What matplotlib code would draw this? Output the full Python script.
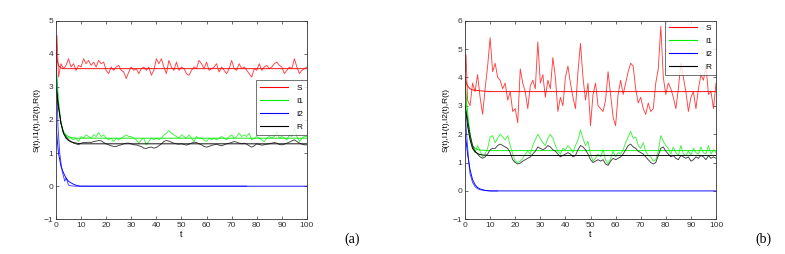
import numpy as np
import matplotlib
matplotlib.use("Agg")
import matplotlib.pyplot as plt
from matplotlib.lines import Line2D

plt.rcParams["font.family"] = ["Liberation Sans", "DejaVu Sans"]

# ---- panel (a) ----
t_a = np.concatenate([[0, 0.4], np.arange(1, 101)])
S_a = [4.0, 4.55, 3.3, 3.7, 3.55, 3.65, 3.85, 3.6, 3.7, 3.5, 3.65, 3.6,
       3.85, 3.7, 3.8, 3.65, 3.75, 3.6, 3.8, 3.7, 3.75, 3.5,
       3.4, 3.6, 3.5, 3.6, 3.65, 3.5, 3.45, 3.25, 3.45, 3.6,
       3.5, 3.55, 3.4, 3.55, 3.6, 3.5, 3.6, 3.35, 3.5, 3.85,
       3.7, 3.85, 3.6, 3.4, 3.8, 3.6, 3.5, 3.75, 3.5, 3.6,
       3.55, 3.4, 3.35, 3.5, 3.6, 3.55, 3.8, 3.7, 3.55, 3.75,
       3.5, 3.55, 3.6, 3.7, 3.45, 3.6, 3.5, 3.4, 3.55, 3.8,
       3.55, 3.5, 3.7, 3.55, 3.6, 3.5, 3.4, 3.3, 3.55, 3.5,
       3.7, 3.5, 3.6, 3.65, 3.55, 3.6, 3.7, 3.75, 3.65, 3.6,
       3.4, 3.5, 3.6, 3.55, 3.85, 3.6, 3.4, 3.5, 3.55, 3.6]
I1_a = [3.6, 3.3, 2.6, 1.9, 1.6, 1.5, 1.45, 1.45, 1.4, 1.45, 1.35, 1.5,
        1.45, 1.55, 1.5, 1.45, 1.55, 1.5, 1.62, 1.5, 1.55, 1.45,
        1.4, 1.45, 1.35, 1.45, 1.4, 1.45, 1.5, 1.55, 1.5, 1.5,
        1.45, 1.4, 1.3, 1.4, 1.45, 1.25, 1.35, 1.45, 1.4, 1.45,
        1.4, 1.45, 1.55, 1.6, 1.68, 1.6, 1.55, 1.5, 1.45, 1.55,
        1.5, 1.45, 1.55, 1.45, 1.35, 1.5, 1.45, 1.45, 1.4, 1.35,
        1.45, 1.4, 1.45, 1.4, 1.45, 1.5, 1.45, 1.4, 1.5, 1.55,
        1.45, 1.5, 1.6, 1.5, 1.55, 1.5, 1.6, 1.4, 1.45, 1.5,
        1.45, 1.4, 1.35, 1.45, 1.5, 1.45, 1.5, 1.65, 1.45, 1.5,
        1.45, 1.4, 1.55, 1.5, 1.75, 1.5, 1.35, 1.45, 1.5, 1.5]
R_a = [3.0, 2.8, 2.4, 1.9, 1.6, 1.5, 1.4, 1.35, 1.3, 1.28, 1.25, 1.3,
       1.32, 1.32, 1.33, 1.32, 1.35, 1.36, 1.38, 1.37, 1.32, 1.28,
       1.25, 1.22, 1.2, 1.2, 1.23, 1.25, 1.28, 1.3, 1.3, 1.28,
       1.25, 1.25, 1.22, 1.2, 1.15, 1.14, 1.17, 1.18, 1.15, 1.17,
       1.22, 1.28, 1.35, 1.38, 1.36, 1.33, 1.3, 1.28, 1.27, 1.28,
       1.26, 1.24, 1.27, 1.3, 1.33, 1.32, 1.28, 1.25, 1.2, 1.18,
       1.2, 1.23, 1.25, 1.27, 1.24, 1.22, 1.25, 1.28, 1.3, 1.32,
       1.35, 1.33, 1.3, 1.28, 1.3, 1.27, 1.22, 1.18, 1.22, 1.28,
       1.26, 1.24, 1.25, 1.27, 1.28, 1.3, 1.32, 1.3, 1.26, 1.25,
       1.27, 1.3, 1.33, 1.37, 1.4, 1.35, 1.3, 1.27, 1.25, 1.25]
t_I2_a = [0, 0.3, 0.8, 1.5, 2, 2.5, 3, 3.5, 4, 4.5, 5, 6, 8, 76]
I2_a = [4.1, 3.2, 1.8, 1.0, 0.7, 0.45, 0.3, 0.15, 0.25, 0.15, 0.03, 0.01, 0, 0]

# deterministic curves (a)
tS_det_a = [0, 0.5, 1, 1.5, 2, 3, 4, 100]
S_det_a = [4.1, 3.8, 3.65, 3.6, 3.57, 3.55, 3.55, 3.55]
tI1_det_a = [0, 0.5, 1, 2, 3, 4, 5, 6, 8, 10, 100]
I1_det_a = [3.6, 3.0, 2.5, 1.9, 1.65, 1.55, 1.5, 1.47, 1.45, 1.45, 1.45]
tR_det_a = [0, 0.5, 1, 2, 3, 4, 5, 6, 8, 10, 12, 100]
R_det_a = [3.0, 2.7, 2.4, 1.9, 1.6, 1.45, 1.38, 1.34, 1.3, 1.28, 1.28, 1.28]
tI2_det_a = [0, 0.5, 1, 2, 3, 4, 5, 6, 7, 8, 9, 10, 100]
I2_det_a = [1.9, 1.4, 1.0, 0.6, 0.4, 0.25, 0.15, 0.1, 0.06, 0.03, 0.01, 0, 0]

# ---- panel (b) ----
t_b = np.concatenate([[0, 0.4], np.arange(1, 101)])
S_b = [4.2, 4.8, 3.2, 3.0, 3.8, 3.5, 4.1, 3.3, 2.7, 3.6, 4.4, 5.4,
       4.2, 4.5, 4.0, 3.9, 3.6, 3.8, 3.2, 3.5, 2.8, 2.9,
       2.4, 4.3, 3.8, 3.5, 2.9, 3.7, 3.9, 3.6, 5.25, 3.8,
       4.1, 3.3, 3.9, 3.6, 4.7, 4.0, 2.8, 3.3, 3.0, 4.0,
       4.4, 3.8, 3.3, 2.9, 4.2, 5.2, 4.0, 3.2, 3.8, 2.3,
       3.4, 3.8, 3.0, 2.9, 2.8, 3.2, 4.2, 3.4, 2.6, 2.3,
       3.4, 3.9, 3.4, 3.8, 4.2, 4.5, 4.4, 3.6, 3.1, 3.3,
       2.9, 2.7, 3.1, 2.8, 2.9, 3.8, 4.3, 5.8, 4.0, 3.4,
       3.8, 3.6, 3.3, 2.9, 3.6, 4.5, 4.0, 3.5, 2.8, 3.3,
       3.5, 2.9, 3.6, 4.1, 3.9, 4.4, 3.4, 3.5, 2.9, 3.8]
I1_b = [3.9, 3.4, 2.8, 2.0, 1.5, 1.35, 1.6, 1.4, 1.2, 1.3, 1.5, 1.9,
        1.95, 1.7, 1.85, 2.0, 1.9, 1.8, 1.95, 1.6, 1.3, 1.05,
        1.0, 1.05, 1.15, 1.3, 1.4, 1.3, 1.6, 1.8, 2.0, 1.85,
        1.7, 1.6, 1.85, 2.0, 1.85, 1.6, 1.4, 1.3, 1.5, 1.45,
        1.6, 1.5, 1.35, 1.6, 1.8, 2.15, 1.85, 1.6, 1.75, 1.3,
        1.05, 1.15, 1.3, 1.2, 1.45, 1.1, 0.95, 1.15, 1.4, 1.2,
        1.35, 1.3, 1.45, 1.7, 1.9, 2.1, 1.85, 1.9, 1.6, 1.5,
        1.7, 1.4, 1.25, 1.2, 1.05, 1.1, 1.4, 1.95, 1.75, 1.6,
        1.5, 1.3, 1.55, 1.35, 1.25, 1.6, 1.3, 1.25, 1.4, 1.25,
        1.5, 1.35, 1.3, 1.55, 1.35, 1.3, 1.6, 1.3, 1.45, 1.35]
R_b = [3.0, 2.8, 2.5, 2.0, 1.6, 1.4, 1.3, 1.2, 1.15, 1.2, 1.3, 1.45,
       1.5, 1.5, 1.6, 1.65, 1.6, 1.55, 1.5, 1.35, 1.1, 1.0,
       0.95, 0.98, 1.05, 1.1, 1.15, 1.2, 1.3, 1.4, 1.55, 1.5,
       1.45, 1.5, 1.6, 1.55, 1.45, 1.4, 1.3, 1.2, 1.25, 1.3,
       1.35, 1.3, 1.2, 1.25, 1.45, 1.6, 1.55, 1.45, 1.3, 1.1,
       1.0, 1.05, 1.1, 1.05, 1.1, 0.95, 0.9, 1.05, 1.15, 1.1,
       1.15, 1.2, 1.3, 1.45, 1.6, 1.65, 1.55, 1.5, 1.4, 1.35,
       1.3, 1.2, 1.1, 1.0, 0.95, 1.0, 1.25, 1.5, 1.55, 1.4,
       1.3, 1.2, 1.25, 1.15, 1.1, 1.25, 1.2, 1.15, 1.2, 1.05,
       1.1, 1.2, 1.15, 1.25, 1.2, 1.1, 1.25, 1.15, 1.2, 1.15]
t_I2_b = [0, 0.3, 0.8, 1.5, 2, 3, 4, 5, 6, 8, 10, 13]
I2_b = [2.6, 2.4, 1.8, 1.0, 0.6, 0.3, 0.15, 0.08, 0.04, 0.01, 0, 0]

# deterministic curves (b)
tS_det_b = [0, 0.5, 1, 2, 3, 4, 6, 10, 100]
S_det_b = [4.0, 3.8, 3.7, 3.6, 3.56, 3.55, 3.53, 3.5, 3.5]
tI1_det_b = [0, 0.5, 1, 2, 3, 4, 5, 6, 8, 10, 100]
I1_det_b = [3.9, 3.2, 2.6, 1.9, 1.6, 1.5, 1.46, 1.44, 1.43, 1.42, 1.42]
tR_det_b = [0, 0.5, 1, 2, 3, 4, 5, 6, 8, 10, 15, 100]
R_det_b = [3.0, 2.7, 2.3, 1.8, 1.5, 1.38, 1.32, 1.28, 1.26, 1.25, 1.25, 1.25]
tI2_det_b = [0, 0.5, 1, 2, 3, 4, 5, 6, 8, 10, 100]
I2_det_b = [2.0, 1.7, 1.3, 0.75, 0.4, 0.22, 0.12, 0.07, 0.02, 0, 0]

labels = ["S", "I1", "I2", "R"]
colors = ["#ff0000", "#00ee00", "#0000ff", "#000000"]
LW = 0.65
FS = 6


def style_axes(ax, ymin, ymax):
    ax.set_xlim(0, 100)
    ax.set_ylim(ymin, ymax)
    ax.set_xticks(np.arange(0, 101, 10))
    ax.set_yticks(np.arange(ymin, ymax + 1, 1))
    ax.tick_params(direction="in", top=True, right=True, length=2.5,
                   width=0.5, labelsize=FS, pad=2, colors="#333333")
    for sp in ax.spines.values():
        sp.set_linewidth(0.6)
        sp.set_color("#333333")
    ax.set_xlabel("t", fontsize=FS + 0.5, labelpad=1)
    ax.set_ylabel("S(t),I1(t),I2(t),R(t)", fontsize=FS, labelpad=2)


def draw(ax, stoch, det):
    for (ts, ys), (td, yd), c in zip(stoch, det, colors):
        ax.plot(ts, ys, color=c, lw=LW, alpha=0.75)
        ax.plot(td, yd, color=c, lw=LW)


def add_legend(ax, anchor):
    handles = [Line2D([0], [0], color=c, lw=0.8) for c in colors]
    leg = ax.legend(handles, labels, loc="upper right",
                    bbox_to_anchor=anchor, fontsize=FS, frameon=True,
                    fancybox=False, borderpad=0.45, handlelength=3.4,
                    labelspacing=0.62, borderaxespad=0, handletextpad=1.0)
    leg.get_frame().set_edgecolor("#333333")
    leg.get_frame().set_linewidth(0.6)
    return leg


fig = plt.figure(figsize=(7.85, 2.54), dpi=100)
ax_a = fig.add_axes([0.0713, 0.1366, 0.3197, 0.782])
ax_b = fig.add_axes([0.5924, 0.1366, 0.3197, 0.782])

draw(ax_a,
     [(t_a, S_a), (t_a, I1_a), (t_I2_a, I2_a), (t_a, R_a)],
     [(tS_det_a, S_det_a), (tI1_det_a, I1_det_a),
      (tI2_det_a, I2_det_a), (tR_det_a, R_det_a)])
style_axes(ax_a, -1, 5)
add_legend(ax_a, (1.0, 0.70))

draw(ax_b,
     [(t_b, S_b), (t_b, I1_b), (t_I2_b, I2_b), (t_b, R_b)],
     [(tS_det_b, S_det_b), (tI1_det_b, I1_det_b),
      (tI2_det_b, I2_det_b), (tR_det_b, R_det_b)])
style_axes(ax_b, -1, 6)
add_legend(ax_b, (1.0, 1.0))

fig.text(352 / 785, 1 - 239 / 254, "(a)", fontsize=10,
         family=["Liberation Serif", "DejaVu Serif"], ha="center", va="center")
fig.text(763 / 785, 1 - 239 / 254, "(b)", fontsize=10,
         family=["Liberation Serif", "DejaVu Serif"], ha="center", va="center")

fig.savefig("out.png", dpi=100)
